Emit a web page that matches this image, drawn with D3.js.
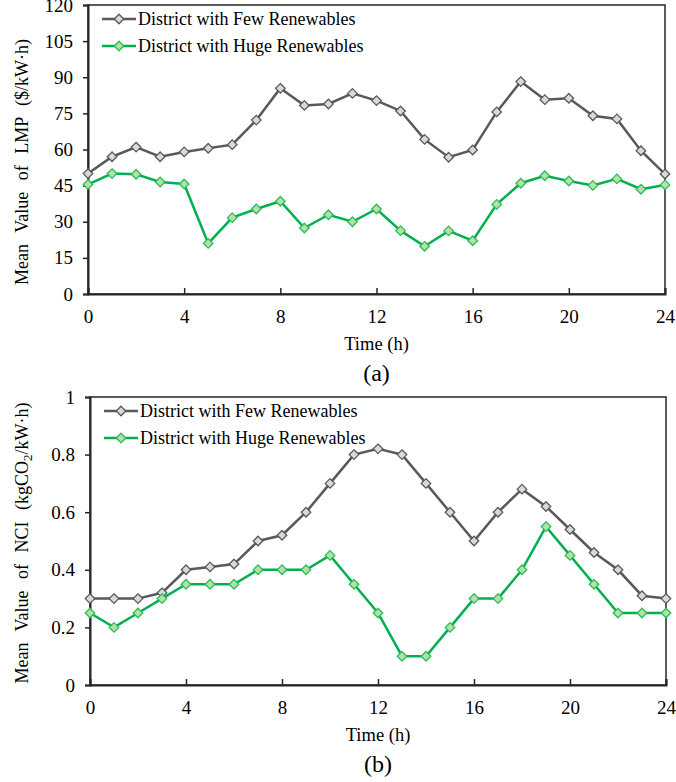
<!DOCTYPE html>
<meta charset="utf-8">
<script src="https://cdn.jsdelivr.net/npm/d3@7"></script>
<style>
body { margin: 0; background: #fff; }
svg text { font-family: "Liberation Serif", "Times New Roman", serif; fill: #000; }
</style>
<body>
<script>
// hours 0..24
var hours = d3.range(0, 25);

// (a) mean LMP ($/kW.h)
var lmpFew = [50, 57, 61, 57, 59, 60.5, 62, 72.2, 85.4, 78.3, 78.9, 83.3, 80.3, 76, 64.2, 56.8, 59.8, 75.6, 88.2, 80.7, 81.3, 74, 72.7, 59.5, 49.8];
var lmpHuge = [45.5, 50, 49.7, 46.5, 45.7, 21, 31.7, 35.3, 38.5, 27.4, 32.9, 30, 35.3, 26.3, 19.8, 26.2, 22.1, 37.2, 46, 49.1, 46.9, 45.1, 47.8, 43.5, 45.3];

// (b) mean NCI (kgCO2/kW.h)
var nciFew = [0.3, 0.3, 0.3, 0.32, 0.4, 0.41, 0.42, 0.5, 0.52, 0.6, 0.7, 0.8, 0.82, 0.8, 0.7, 0.6, 0.5, 0.6, 0.68, 0.62, 0.54, 0.46, 0.4, 0.31, 0.3];
var nciHuge = [0.25, 0.2, 0.25, 0.3, 0.35, 0.35, 0.35, 0.4, 0.4, 0.4, 0.45, 0.35, 0.25, 0.1, 0.1, 0.2, 0.3, 0.3, 0.4, 0.55, 0.45, 0.35, 0.25, 0.25, 0.25];

var seriesNames = ["District with Few Renewables", "District with Huge Renewables"];
var xTicks = [0, 4, 8, 12, 16, 20, 24];
var lmpTicks = [0, 15, 30, 45, 60, 75, 90, 105, 120];
var nciTicks = [0, 0.2, 0.4, 0.6, 0.8, 1];

var styles = [
  {line: "#595959", fill: "#d9d9d9", stroke: "#595959"},
  {line: "#00b050", fill: "#b5e0a6", stroke: "#2cbc5c"}
];

var svg = d3.select("body").append("svg")
  .attr("width", 676).attr("height", 782);

function panel(opt) {
  var x = d3.scaleLinear().domain([0, 24]).range([opt.left, opt.right]);
  var y = d3.scaleLinear().domain([0, opt.ymax]).range([opt.bottom, opt.top]);
  var g = svg.append("g");

  // frame
  g.append("rect")
    .attr("x", opt.left).attr("y", opt.top)
    .attr("width", opt.right - opt.left).attr("height", opt.bottom - opt.top)
    .attr("fill", "none").attr("stroke", "#262626").attr("stroke-width", 1.5);

  // y axis, ticks outward
  var ya = g.append("g")
    .attr("transform", "translate(" + opt.left + ",0)")
    .call(d3.axisLeft(y).tickValues(opt.yticks).tickSize(5).tickPadding(10)
      .tickFormat(function(d){ return d; }));
  ya.select(".domain").attr("stroke", "#262626").attr("stroke-width", 2);
  ya.selectAll(".tick line").attr("stroke", "#262626").attr("stroke-width", 1.5);
  ya.selectAll("text").style("font-size", "19px").attr("font-family", null);

  // x axis, ticks inward
  var xa = g.append("g")
    .attr("transform", "translate(0," + opt.bottom + ")")
    .call(d3.axisBottom(x).tickValues(xTicks).tickSize(-6).tickPadding(16));
  xa.select(".domain").attr("stroke", "#262626").attr("stroke-width", 2);
  xa.selectAll(".tick line").attr("stroke", "#262626").attr("stroke-width", 1.5);
  xa.selectAll("text").style("font-size", "19px").attr("font-family", null);

  var line = d3.line().x(function(d, i){ return x(hours[i]); }).y(function(d){ return y(d); });
  var diamond = d3.symbol().type(d3.symbolDiamond2).size(58);

  opt.data.forEach(function(vals, k) {
    var s = styles[k];
    g.append("path").datum(vals)
      .attr("d", line).attr("fill", "none")
      .attr("stroke", s.line).attr("stroke-width", 2.5);
    g.selectAll(".pt" + k).data(vals).enter().append("path")
      .attr("class", "pt" + k)
      .attr("d", diamond)
      .attr("transform", function(d, i){ return "translate(" + x(hours[i]) + "," + y(d) + ")"; })
      .attr("fill", s.fill).attr("stroke", s.stroke).attr("stroke-width", 1.3);
  });

  // legend
  seriesNames.forEach(function(name, k) {
    var s = styles[k];
    var ly = opt.legendY + k * 27;
    g.append("line")
      .attr("x1", opt.left + 14).attr("x2", opt.left + 48)
      .attr("y1", ly).attr("y2", ly)
      .attr("stroke", s.line).attr("stroke-width", 2.5);
    g.append("path").attr("d", diamond)
      .attr("transform", "translate(" + (opt.left + 31) + "," + ly + ")")
      .attr("fill", s.fill).attr("stroke", s.stroke).attr("stroke-width", 1.3);
    g.append("text")
      .attr("x", opt.left + 50).attr("y", ly).attr("dy", "0.35em")
      .style("font-size", "18px").text(name);
  });

  // axis titles
  var mid = (opt.left + opt.right) / 2;
  g.append("text")
    .attr("x", mid).attr("y", opt.bottom + 56)
    .attr("text-anchor", "middle").style("font-size", "18.5px").text("Time (h)");
  g.append("text")
    .attr("x", mid).attr("y", opt.bottom + 87)
    .attr("text-anchor", "middle").style("font-size", "24px").text(opt.tag);

  var yt = g.append("text")
    .attr("transform", "translate(28," + opt.titleY + ") rotate(-90)")
    .attr("text-anchor", "middle").style("font-size", "18px")
    .style("word-spacing", "7px");
  opt.ytitle(yt);
}

panel({
  left: 88, right: 665, top: 5, bottom: 294, ymax: 120,
  yticks: lmpTicks, data: [lmpFew, lmpHuge], legendY: 19, tag: "(a)", titleY: 162,
  ytitle: function(t){ t.text("Mean Value of LMP ($/kW\u00b7h)"); }
});

panel({
  left: 90, right: 666, top: 397, bottom: 685, ymax: 1,
  yticks: nciTicks, data: [nciFew, nciHuge], legendY: 411, tag: "(b)", titleY: 543,
  ytitle: function(t){
    t.append("tspan").text("Mean Value of NCI (kgCO");
    t.append("tspan").attr("dy", 4).style("font-size", "13px").text("2");
    t.append("tspan").attr("dy", -4).text("/kW\u00b7h)");
  }
});
</script>
</body>
</html>
